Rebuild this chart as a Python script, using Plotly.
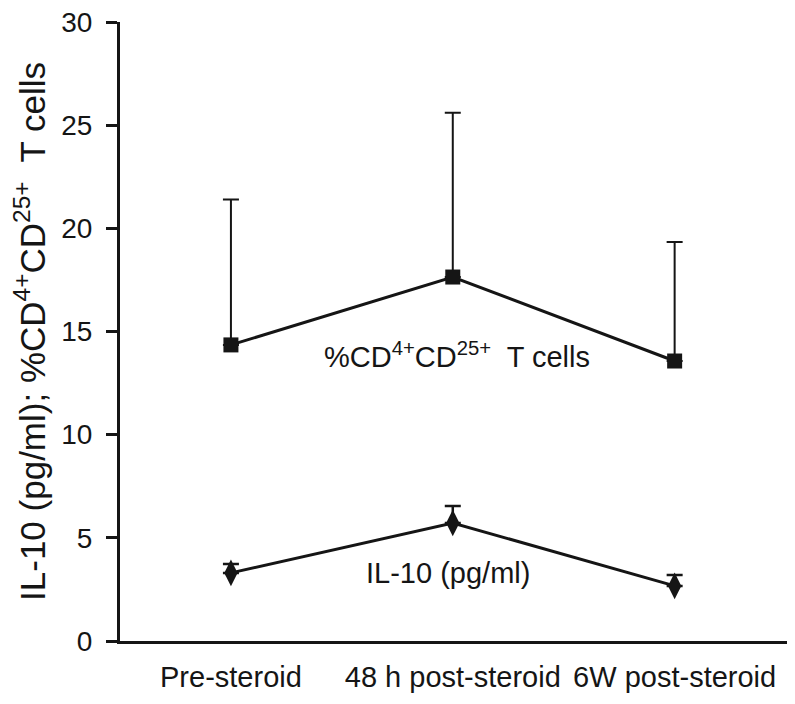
import plotly.graph_objects as go

categories = ["Pre-steroid", "48 h post-steroid", "6W post-steroid"]
cd_values = [14.35, 17.64, 13.57]
cd_err_up = [7.05, 7.96, 5.77]
il10_values = [3.3, 5.72, 2.67]
il10_err_up = [0.43, 0.82, 0.53]
y_ticks = [0, 5, 10, 15, 20, 25, 30]

xpos = list(range(len(categories)))
FONT = "Liberation Sans, Arial, Helvetica, sans-serif"
INK = "#151515"

fig = go.Figure()
fig.add_trace(go.Scatter(
    x=xpos, y=cd_values, mode="lines+markers",
    line=dict(color=INK, width=3),
    marker=dict(symbol="square", size=15, color=INK),
    error_y=dict(type="data", symmetric=False, array=cd_err_up,
                 arrayminus=[0]*3, color=INK, thickness=2, width=8),
    showlegend=False,
))
fig.add_trace(go.Scatter(
    x=xpos, y=il10_values, mode="lines+markers",
    line=dict(color=INK, width=3),
    marker=dict(symbol="diamond-tall", size=19, color=INK),
    error_y=dict(type="data", symmetric=False, array=il10_err_up,
                 arrayminus=[0]*3, color=INK, thickness=2.5, width=8),
    showlegend=False,
))

fig.add_annotation(x=1.02, y=13.85, text="%CD<sup>4+</sup>CD<sup>25+</sup>  T cells",
                   showarrow=False, font=dict(family=FONT, size=29, color=INK))
fig.add_annotation(x=0.98, y=3.3, text="IL-10 (pg/ml)",
                   showarrow=False, font=dict(family=FONT, size=29, color=INK))

fig.update_layout(
    width=787, height=696,
    margin=dict(l=112, r=5, t=14, b=63),
    paper_bgcolor="white", plot_bgcolor="white",
    font=dict(family=FONT, size=28, color=INK),
    xaxis=dict(range=[-0.5, 2.52], tickvals=xpos, ticktext=categories,
               showline=True, linecolor=INK, linewidth=3,
               ticks="", showgrid=False, zeroline=False, automargin=False,
               tickfont=dict(size=29), ticklabelstandoff=8),
    yaxis=dict(range=[0, 30], tickvals=y_ticks,
               showline=True, linecolor=INK, linewidth=3,
               ticks="outside", ticklen=11, tickwidth=3, tickcolor=INK,
               showgrid=False, zeroline=False, automargin=False,
               tickfont=dict(size=28),
               ticklabelstandoff=8, ticklabeloverflow="allow",
               title=dict(text="IL-10 (pg/ml); %CD<sup>4+</sup>CD<sup>25+</sup>  T cells",
                          font=dict(size=35), standoff=6)),
)

fig.write_html("out.html")
